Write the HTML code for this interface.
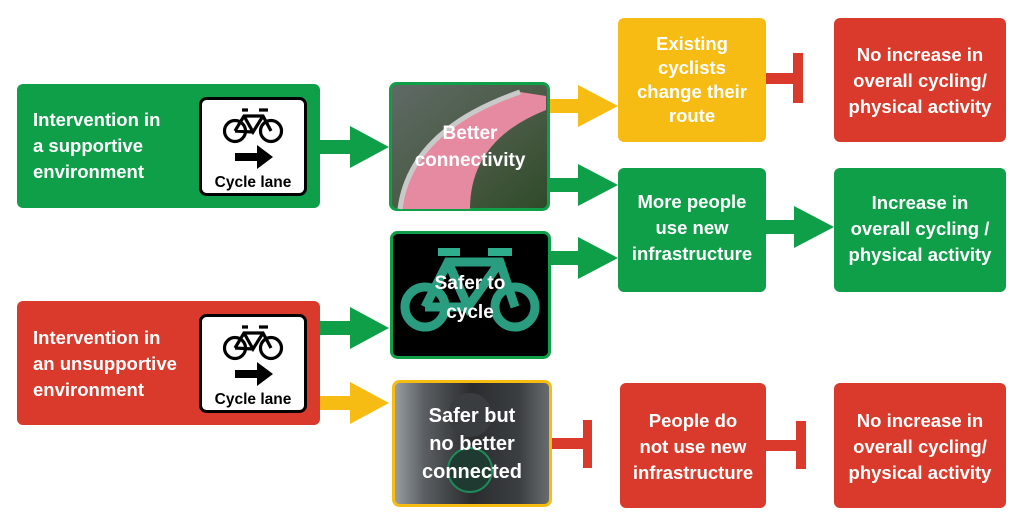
<!DOCTYPE html>
<html><head><meta charset="utf-8"><style>
html,body{margin:0;padding:0;background:#fff;}
svg{display:block}
text{font-family:"Liberation Sans",sans-serif;font-weight:bold;fill:#fff;font-size:18.5px;text-anchor:middle}
.l{text-anchor:start}
.s{fill:#000;font-size:15px}
</style></head><body>
<svg width="1024" height="529" viewBox="0 0 1024 529" xmlns="http://www.w3.org/2000/svg">
<defs>
<linearGradient id="g1" x1="0" y1="0" x2="1" y2="1">
<stop offset="0" stop-color="#5f6a66"/><stop offset="0.5" stop-color="#4c5c48"/><stop offset="1" stop-color="#2f4a28"/>
</linearGradient>
<linearGradient id="g3" x1="0" y1="0" x2="1" y2="0">
<stop offset="0" stop-color="#9aa0a6"/><stop offset="0.2" stop-color="#5a5e62"/><stop offset="0.5" stop-color="#2a2c2e"/><stop offset="0.8" stop-color="#3c3f42"/><stop offset="1" stop-color="#6b6e70"/>
</linearGradient>
<symbol id="sign" viewBox="0 0 108 99">
<rect x="1.5" y="1.5" width="105" height="96" rx="6" fill="#fff" stroke="#000" stroke-width="3"/>
<g fill="none" stroke="#000" stroke-width="3.2">
<circle cx="36" cy="34" r="10.5"/><circle cx="72" cy="34" r="10.5"/>
<path d="M36 34 L45 19 L64 19 L72 34 M45 19 L54 35 L64 19 M54 35 L36 34 M43 13 L49 13 M60 13 L69 13"/>
</g>
<path d="M36 56 h22 v-8 l16 12 l-16 12 v-8 h-22z" fill="#000"/>
<text x="54" y="90" class="s" style="font-size:15.5px">Cycle lane</text>
</symbol>
</defs>

<rect x="17" y="84" width="303" height="124" rx="6" fill="#0e9f48"/>
<text class="l" x="33" y="126">Intervention in</text>
<text class="l" x="33" y="152">a supportive</text>
<text class="l" x="33" y="178">environment</text>
<use href="#sign" x="199" y="97" width="108" height="99"/>

<rect x="17" y="301" width="303" height="124" rx="6" fill="#d93a2b"/>
<text class="l" x="33" y="344">Intervention in</text>
<text class="l" x="33" y="370">an unsupportive</text>
<text class="l" x="33" y="396">environment</text>
<use href="#sign" x="199" y="314" width="108" height="99"/>

<g fill="#0e9f48">
<path d="M320 140 h30 v-14 l39 21 l-39 21 v-14 h-30z"/>
<path d="M320 321 h30 v-14 l39 21 l-39 21 v-14 h-30z"/>
<path d="M549 178 h29 v-14 l40 21 l-40 21 v-14 h-29z"/>
<path d="M550 251 h28 v-14 l40 21 l-40 21 v-14 h-28z"/>
<path d="M766 220 h28 v-14 l40 21 l-40 21 v-14 h-28z"/>
</g>
<g fill="#f7bc14">
<path d="M549 99 h29 v-14 l40 21 l-40 21 v-14 h-29z"/>
<path d="M320 396 h30 v-14 l39 21 l-39 21 v-14 h-30z"/>
</g>
<g fill="#d93a2b">
<rect x="766" y="73" width="30" height="11"/><rect x="793" y="53" width="10" height="50"/>
<rect x="551" y="438" width="35" height="11"/><rect x="583" y="420" width="9" height="48"/>
<rect x="766" y="440" width="32" height="11"/><rect x="796" y="421" width="10" height="48"/>
</g>

<rect x="390.5" y="83.5" width="158" height="126" rx="6" fill="url(#g1)" stroke="#0e9f48" stroke-width="3"/>
<path d="M400 209 Q410 130 520 92 L546 96 L546 110 Q470 140 470 209z" fill="#e58aa0"/>
<path d="M400 209 Q410 130 520 92" fill="none" stroke="#c9c9c9" stroke-width="5"/>
<text x="470" y="139" style="font-size:19px">Better</text>
<text x="470" y="166" style="font-size:19px">connectivity</text>

<rect x="391.5" y="232.5" width="158" height="125" rx="6" fill="#000" stroke="#0e9f48" stroke-width="3"/>
<g fill="none" stroke="#2fae8e" stroke-width="9" opacity="0.9">
<circle cx="425" cy="307" r="20"/><circle cx="515" cy="307" r="20"/>
<path d="M425 307 L448 262 L500 262 L515 307 M448 262 L468 307 L500 262 M468 307 L425 307"/>
</g>
<path d="M438 252 h22 M488 252 h24" stroke="#2fae8e" stroke-width="8"/>
<text x="470" y="289" style="font-size:19px">Safer to</text>
<text x="470" y="318" style="font-size:19px">cycle</text>

<rect x="393.5" y="381.5" width="157" height="124" rx="6" fill="url(#g3)" stroke="#f7bc14" stroke-width="3"/>
<circle cx="470" cy="415" r="22" fill="#3a3d3f"/>
<circle cx="470" cy="470" r="22" fill="#1f3a30" stroke="#1e8a5a" stroke-width="2"/>
<text x="472" y="422" style="font-size:20px">Safer but</text>
<text x="472" y="450" style="font-size:20px">no better</text>
<text x="472" y="478" style="font-size:20px">connected</text>

<rect x="618" y="18" width="148" height="124" rx="6" fill="#f7bc14"/>
<text x="692" y="50">Existing</text>
<text x="692" y="74">cyclists</text>
<text x="692" y="98">change their</text>
<text x="692" y="122">route</text>

<rect x="834" y="18" width="172" height="124" rx="6" fill="#d93a2b"/>
<text x="920" y="61">No increase in</text>
<text x="920" y="87">overall cycling/</text>
<text x="920" y="113">physical activity</text>

<rect x="618" y="168" width="148" height="124" rx="6" fill="#0e9f48"/>
<text x="692" y="208">More people</text>
<text x="692" y="234">use new</text>
<text x="692" y="260">infrastructure</text>

<rect x="834" y="168" width="172" height="124" rx="6" fill="#0e9f48"/>
<text x="920" y="209">Increase in</text>
<text x="920" y="235">overall cycling /</text>
<text x="920" y="261">physical activity</text>

<rect x="620" y="383" width="146" height="125" rx="6" fill="#d93a2b"/>
<text x="693" y="427">People do</text>
<text x="693" y="453">not use new</text>
<text x="693" y="479">infrastructure</text>

<rect x="834" y="383" width="172" height="125" rx="6" fill="#d93a2b"/>
<text x="920" y="427">No increase in</text>
<text x="920" y="453">overall cycling/</text>
<text x="920" y="479">physical activity</text>
</svg>
</body></html>
